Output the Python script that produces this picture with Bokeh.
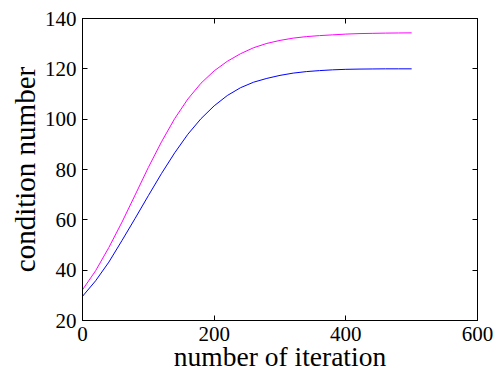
from bokeh.plotting import figure
from bokeh.models import LinearAxis, Range1d, FixedTicker
from bokeh.embed import file_html
from bokeh.resources import INLINE

iterations = [0, 20, 40, 60, 80, 100, 120, 140, 160, 180, 200, 220, 240, 260,
              280, 300, 320, 340, 360, 380, 400, 420, 440, 460, 480, 500]
cond_magenta = [32.2, 39.8, 49.0, 59.1, 69.9, 80.8, 91.0, 100.2, 108.0, 114.3,
                119.2, 123.0, 126.0, 128.4, 130.1, 131.3, 132.2, 132.8, 133.2,
                133.5, 133.8, 134.0, 134.1, 134.2, 134.25, 134.3]
cond_blue = [29.6, 35.8, 43.2, 51.8, 60.6, 69.6, 78.4, 86.6, 94.0, 100.2, 105.3,
             109.4, 112.5, 114.7, 116.2, 117.4, 118.3, 118.9, 119.3, 119.6,
             119.8, 119.9, 119.95, 120.0, 120.0, 120.0]
x_ticks = [0, 200, 400, 600]
y_ticks = [20, 40, 60, 80, 100, 120, 140]

FONT = "Liberation Serif"

p = figure(width=500, height=374, output_backend="svg", toolbar_location=None,
           x_range=Range1d(0, 600), y_range=Range1d(20, 140),
           min_border_left=82, min_border_right=23, min_border_top=18,
           min_border_bottom=53)
p.xgrid.visible = False
p.ygrid.visible = False
p.outline_line_color = "black"
p.outline_line_width = 1

p.line(iterations, cond_magenta, line_color="#FF00FF", line_width=1)
p.line(iterations, cond_blue, line_color="#0000FF", line_width=1)

for ax in (p.xaxis[0], p.yaxis[0]):
    ax.major_tick_in = 5
    ax.major_tick_out = 0
    ax.minor_tick_in = 0
    ax.minor_tick_out = 0
    ax.axis_line_color = "black"
    ax.major_tick_line_color = "black"
    ax.major_label_text_font = FONT
    ax.major_label_text_font_size = "21px"
    ax.major_label_text_color = "black"
    ax.axis_label_text_font = FONT
    ax.axis_label_text_font_style = "normal"
    ax.axis_label_text_color = "black"

p.xaxis[0].ticker = FixedTicker(ticks=x_ticks)
p.yaxis[0].ticker = FixedTicker(ticks=y_ticks)
p.xaxis[0].axis_label = "number of iteration"
p.yaxis[0].axis_label = "condition number"
p.xaxis[0].axis_label_text_font_size = "27.5px"
p.yaxis[0].axis_label_text_font_size = "29px"
p.xaxis[0].major_label_standoff = 6
p.yaxis[0].major_label_standoff = 6
p.xaxis[0].axis_label_standoff = -3
p.yaxis[0].axis_label_standoff = 1

top = LinearAxis(ticker=FixedTicker(ticks=x_ticks), major_label_text_font_size="1px",
                 major_label_text_color=None, major_label_standoff=0,
                 major_tick_in=5, major_tick_out=0, minor_tick_in=0, minor_tick_out=0,
                 axis_line_color="black")
right = LinearAxis(ticker=FixedTicker(ticks=y_ticks), major_label_text_font_size="1px",
                   major_label_text_color=None, major_label_standoff=0,
                   major_tick_in=5, major_tick_out=0, minor_tick_in=0, minor_tick_out=0,
                   axis_line_color="black")
p.add_layout(top, "above")
p.add_layout(right, "right")

open("out.html", "w").write(file_html(p, INLINE))
